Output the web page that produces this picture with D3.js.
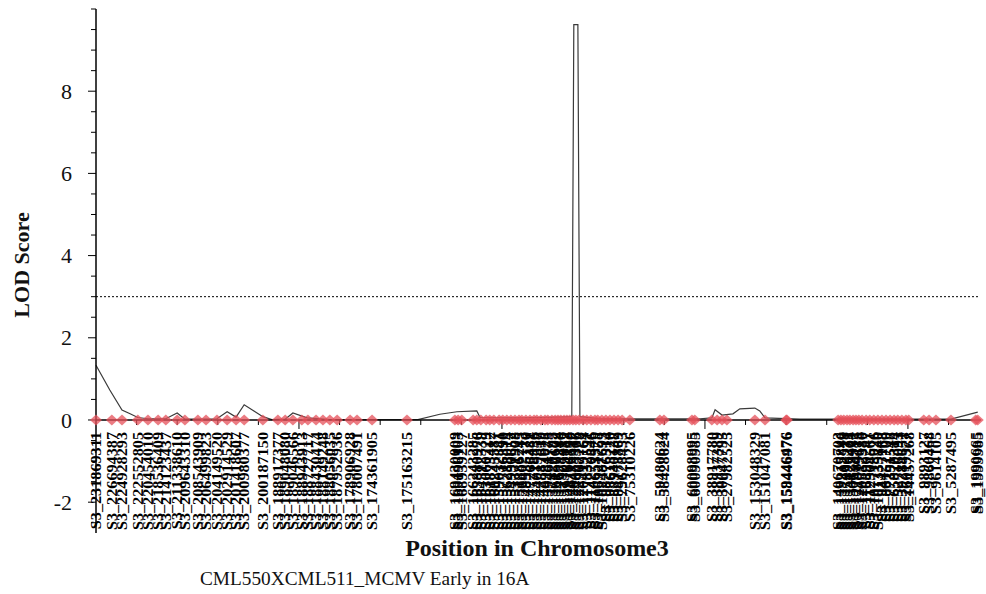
<!DOCTYPE html>
<html>
<head>
<meta charset="utf-8">
<script src="https://cdn.jsdelivr.net/npm/d3@7"></script>
<style>
  html, body { margin: 0; padding: 0; background: #fff; }
  svg { display: block; }
</style>
</head>
<body>
<svg id="chart" width="986" height="594"></svg>
<script>
// Marker names along chromosome 3 and their map positions (cM)
const markerNames = [
  "S3_231869311","S3_226694387","S3_224928293","S3_222552805","S3_220454010","S3_218536409",
  "S3_214123437","S3_211338610","S3_209643310","S3_208543909","S3_206499823","S3_204149520",
  "S3_202914529","S3_201418607","S3_200980377","S3_200187150","S3_188917377","S3_189048080",
  "S3_189046566","S3_188943913","S3_188727717","S3_188430474","S3_188149248","S3_188056035",
  "S3_187952936","S3_178906928","S3_178007491","S3_174361905","S3_175163215",
  "S3_169430009","S3_169196103","S3_168939227","S3_166243285","S3_165880976","S3_164512339",
  "S3_163060729","S3_161873412","S3_160245587","S3_159032841","S3_157716390","S3_156288014",
  "S3_154930652","S3_153371908","S3_151886245","S3_150402713","S3_148935170","S3_147266481",
  "S3_145718836","S3_144019357","S3_142587619","S3_140934028","S3_139461773","S3_137820195",
  "S3_136157602","S3_134699248","S3_132978416","S3_131305887","S3_129764132","S3_128116590",
  "S3_126483917","S3_124855306","S3_122967728","S3_120419164","S3_117832591","S3_114270846",
  "S3_110653379","S3_106921758","S3_102487693","S3_98276514","S3_93615220","S3_88940137",
  "S3_84173869","S3_79628453",
  "S3_75310226","S3_59480624","S3_58428624","S3_60098995","S3_60090985","S3_38917780",
  "S3_38937389","S3_30047795","S3_27982525","S3_153048329","S3_151047081","S3_159446476",
  "S3_158446976",
  "S3_140670703","S3_139215846","S3_137402518","S3_135896271","S3_133127404","S3_130658932",
  "S3_127384115","S3_124019673","S3_120552380","S3_116890247","S3_112304561","S3_107718926",
  "S3_101335840","S3_94427163","S3_86152709","S3_77391548","S3_65820314","S3_52716093",
  "S3_39284651","S3_26019377","S3_14457268",
  "S3_9893127","S3_9860468","S3_9614105","S3_5287495","S3_1990665","S3_1999985"
];
const markerPos = [
  0.0, 3.9, 6.4, 10.3, 12.8, 15.3,
  17.2, 20.0, 21.9, 25.1, 27.1, 29.8,
  32.3, 34.5, 36.5, 41.1, 44.8, 46.6,
  48.5, 50.7, 52.2, 54.2, 55.9, 57.6,
  59.4, 62.6, 64.3, 68.0, 76.6,
  88.4, 89.2, 90.1, 92.9, 93.8, 94.8,
  96.1, 97.0, 98.0, 99.3, 100.2, 101.2,
  102.2, 103.2, 104.2, 104.9, 105.9, 106.9,
  107.9, 108.6, 109.6, 110.6, 111.3, 112.3,
  113.1, 113.8, 114.5, 115.3, 116.0, 116.7,
  117.5, 118.2, 119.0, 120.0, 120.9, 121.9,
  122.9, 123.6, 124.6, 125.6, 126.6, 127.6,
  128.6, 129.6,
  131.5, 138.9, 139.9, 146.8, 147.5, 151.7,
  153.0, 154.2, 155.4, 162.3, 164.8, 170.0,
  170.2,
  182.8, 183.5, 184.2, 185.0, 185.7, 186.5,
  187.2, 187.9, 188.7, 189.7, 190.6, 191.6,
  192.6, 193.6, 194.6, 195.6, 196.6, 197.5,
  198.5, 199.5, 200.2,
  203.9, 205.2, 206.9, 210.6, 216.7, 217.2
];

// LOD profile along the chromosome
const lodPos = [
  0.0, 3.4, 6.4, 8.4, 10.3, 12.8, 17.2, 20.0, 21.9, 29.8, 32.3, 34.5, 36.5, 38.9,
  41.1, 43.3, 46.6, 48.5, 52.0, 57.6, 79.3, 84.7, 88.9, 93.8, 94.6, 104.4, 114.3,
  117.2, 117.7, 118.7, 119.2, 124.1, 148.8, 151.7, 152.5, 154.2, 156.9, 158.6,
  162.3, 163.5, 164.8, 173.4, 210.6, 217.2
];
const lodScore = [
  1.33, 0.73, 0.24, 0.15, 0.06, 0.03, 0.03, 0.17, 0.02, 0.03, 0.20, 0.07, 0.37, 0.22,
  0.08, 0.01, 0.02, 0.17, 0.05, 0.01, 0.01, 0.14, 0.20, 0.22, 0.06, 0.05, 0.07,
  0.08, 9.62, 9.62, 0.08, 0.03, 0.03, 0.05, 0.25, 0.12, 0.15, 0.27,
  0.29, 0.22, 0.05, 0.02, 0.02, 0.19
];

const threshold = 3.0;
const yTickLabels = [-2, 0, 2, 4, 6, 8];

const svg = d3.select("#chart");
const serif = "'Liberation Serif', 'Times New Roman', serif";

const x = d3.scaleLinear().domain([0, 218]).range([96, 981]);
const y = d3.scaleLinear().domain([-2.75, 10]).range([533, 9]);

// threshold line
svg.append("line")
  .attr("x1", x(0)).attr("x2", x(217.5))
  .attr("y1", y(threshold)).attr("y2", y(threshold))
  .attr("stroke", "#000").attr("stroke-width", 1)
  .attr("stroke-dasharray", "2,2");

// LOD curve
const line = d3.line().x(d => x(d[0])).y(d => y(d[1]));
svg.append("path")
  .datum(lodPos.map((p, i) => [p, lodScore[i]]))
  .attr("d", line)
  .attr("fill", "none")
  .attr("stroke", "#3a3a3a")
  .attr("stroke-width", 1.2);

// y axis: minor ticks every 0.5, labels every 2
const yAxis = svg.append("g").attr("transform", `translate(${x(0)},0)`);
yAxis.append("line")
  .attr("x1", 0).attr("x2", 0)
  .attr("y1", y(10)).attr("y2", y(-2.75))
  .attr("stroke", "#000").attr("stroke-width", 1.5);
const minorY = d3.range(-5, 21).map(k => k / 2);
yAxis.selectAll("line.tick")
  .data(minorY)
  .join("line")
  .attr("class", "tick")
  .attr("x1", d => yTickLabels.includes(d) ? -8 : -5).attr("x2", 0)
  .attr("y1", d => y(d)).attr("y2", d => y(d))
  .attr("stroke", "#000").attr("stroke-width", 1);
yAxis.selectAll("text")
  .data(yTickLabels)
  .join("text")
  .attr("x", -24).attr("y", d => y(d))
  .attr("dy", "0.35em")
  .attr("text-anchor", "end")
  .attr("font-family", serif)
  .attr("font-size", 22)
  .attr("fill", "#111")
  .text(d => d);

// x axis: baseline at LOD 0 with downward ticks every 10 cM
const xAxis = svg.append("g");
xAxis.append("line")
  .attr("x1", x(0)).attr("x2", x(218))
  .attr("y1", y(0)).attr("y2", y(0))
  .attr("stroke", "#000").attr("stroke-width", 1.5);
xAxis.selectAll("line.tick")
  .data(d3.range(10, 218, 10))
  .join("line")
  .attr("class", "tick")
  .attr("x1", d => x(d)).attr("x2", d => x(d))
  .attr("y1", y(0)).attr("y2", d => y(0) + (d % 50 === 0 ? 9 : 5))
  .attr("stroke", "#000").attr("stroke-width", 1);

// marker symbols
const diamond = {
  draw(ctx) {
    ctx.moveTo(-6, 0); ctx.lineTo(0, -5.5); ctx.lineTo(6, 0); ctx.lineTo(0, 5.5); ctx.closePath();
  }
};
svg.append("g").selectAll("path")
  .data(markerPos)
  .join("path")
  .attr("d", d3.symbol(diamond))
  .attr("transform", d => `translate(${x(d)},${y(0)})`)
  .attr("fill", "#e5505a")
  .attr("fill-opacity", 0.75);

// marker names under the axis
svg.append("g").selectAll("text")
  .data(markerNames)
  .join("text")
  .attr("transform", (d, i) => `translate(${x(markerPos[i])},432) rotate(-90) scale(1.08,1)`)
  .attr("dy", "0.35em")
  .attr("text-anchor", "end")
  .attr("font-family", serif)
  .attr("font-weight", "bold")
  .attr("font-size", 15)
  .attr("fill", "#000")
  .text(d => d);

// axis titles
svg.append("text")
  .attr("transform", `translate(29,265) rotate(-90)`)
  .attr("text-anchor", "middle")
  .attr("font-family", serif)
  .attr("font-weight", "bold")
  .attr("font-size", 22)
  .attr("fill", "#111")
  .text("LOD Score");

svg.append("text")
  .attr("x", 537).attr("y", 556)
  .attr("text-anchor", "middle")
  .attr("font-family", serif)
  .attr("font-weight", "bold")
  .attr("font-size", 24)
  .attr("fill", "#111")
  .text("Position in Chromosome3");

svg.append("text")
  .attr("x", 200).attr("y", 585)
  .attr("font-family", serif)
  .attr("font-size", 19.3)
  .attr("fill", "#111")
  .text("CML550XCML511_MCMV Early in 16A");
</script>
</body>
</html>
